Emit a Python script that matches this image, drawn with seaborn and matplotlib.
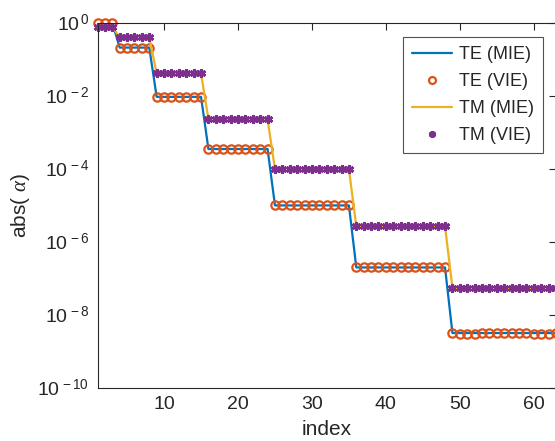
import numpy as np
import matplotlib
matplotlib.use("Agg")
import matplotlib.pyplot as plt
import seaborn as sns

# mode index 1..63 (blocks of 3, 5, 7, 9, 11, 13, 15)
index = list(range(1, 64))

te_mie = ([1.0] * 3 + [0.21] * 5 + [9.4e-3] * 7 + [3.5e-4] * 9
          + [1.0e-5] * 11 + [2.0e-7] * 13 + [3.2e-9] * 15)
te_vie = ([1.0] * 3 + [0.21] * 5 + [9.4e-3] * 7 + [3.5e-4] * 9
          + [1.0e-5] * 11 + [2.0e-7] * 13
          + [3.3e-9, 3.1e-9, 3.1e-9, 3.1e-9, 3.3e-9, 3.3e-9, 3.3e-9, 3.3e-9,
             3.3e-9, 3.3e-9, 3.3e-9, 3.1e-9, 3.1e-9, 3.1e-9, 3.2e-9])
tm_mie = ([0.78] * 3 + [0.40] * 5 + [4.1e-2] * 7 + [2.3e-3] * 9
          + [9.8e-5] * 11 + [2.7e-6] * 13 + [5.5e-8] * 15)
tm_vie = ([0.78] * 3 + [0.40] * 5 + [4.1e-2] * 7 + [2.3e-3] * 9
          + [9.8e-5] * 11 + [2.7e-6] * 13 + [5.5e-8] * 15)

x_ticks = [10, 20, 30, 40, 50, 60]
y_exps = [0, -2, -4, -6, -8, -10]

BLUE = "#0072BD"
ORANGE = "#D95319"
YELLOW = "#EDB120"
PURPLE = "#7E2F8E"

sns.set_theme(style="white")
plt.rcParams['font.family'] = ['Liberation Sans', 'DejaVu Sans']
plt.rcParams['mathtext.fontset'] = 'custom'
plt.rcParams['mathtext.rm'] = 'Liberation Sans'
plt.rcParams['mathtext.it'] = 'Liberation Serif:italic'

fig = plt.figure(figsize=(5.55, 4.41), dpi=100)
ax = fig.add_axes([0.1757, 0.1202, 0.826, 0.828])

sns.lineplot(x=index, y=te_mie, ax=ax, color=BLUE, lw=1.6, label="TE (MIE)")
sns.lineplot(x=index, y=te_vie, ax=ax, color=ORANGE, ls="", marker="o",
             ms=6, mfc="none", mec=ORANGE, mew=1.6, label="TE (VIE)",
             clip_on=False)
sns.lineplot(x=index, y=tm_mie, ax=ax, color=YELLOW, lw=1.6, label="TM (MIE)")
sns.lineplot(x=index, y=tm_vie, ax=ax, color=PURPLE, ls="", marker=(6, 2, 0),
             ms=6.5, mec=PURPLE, mew=2.0, label="TM (VIE)", clip_on=False)

ax.set_yscale("log")
ax.set_xlim(1, 63)
ax.set_ylim(1e-10, 1)
ax.set_xticks(x_ticks)
ax.set_yticks([10.0 ** e for e in y_exps])
ax.set_yticklabels([r"$10^{\,%d}$" % e for e in y_exps])
ax.yaxis.set_minor_locator(matplotlib.ticker.NullLocator())

ax.tick_params(direction="in", top=True, right=True, length=5, width=0.8,
               colors="#262626", labelsize=14, pad=6)
for s in ax.spines.values():
    s.set_color("#262626")
    s.set_linewidth(0.8)

ax.set_xlabel("index", fontsize=15, color="#262626", labelpad=5)
ax.set_ylabel(r"abs( $\alpha$)", fontsize=15, color="#262626", labelpad=4)

leg = ax.legend(loc="upper right", bbox_to_anchor=(0.972, 0.961),
                fontsize=13, frameon=True, fancybox=False,
                edgecolor="#262626", handlelength=2.2, labelspacing=0.55,
                borderpad=0.5, handletextpad=0.4, borderaxespad=0)
leg.get_frame().set_linewidth(0.8)
for h in leg.legend_handles:
    h.set_markersize(5)

fig.savefig("out.png", dpi=100)
